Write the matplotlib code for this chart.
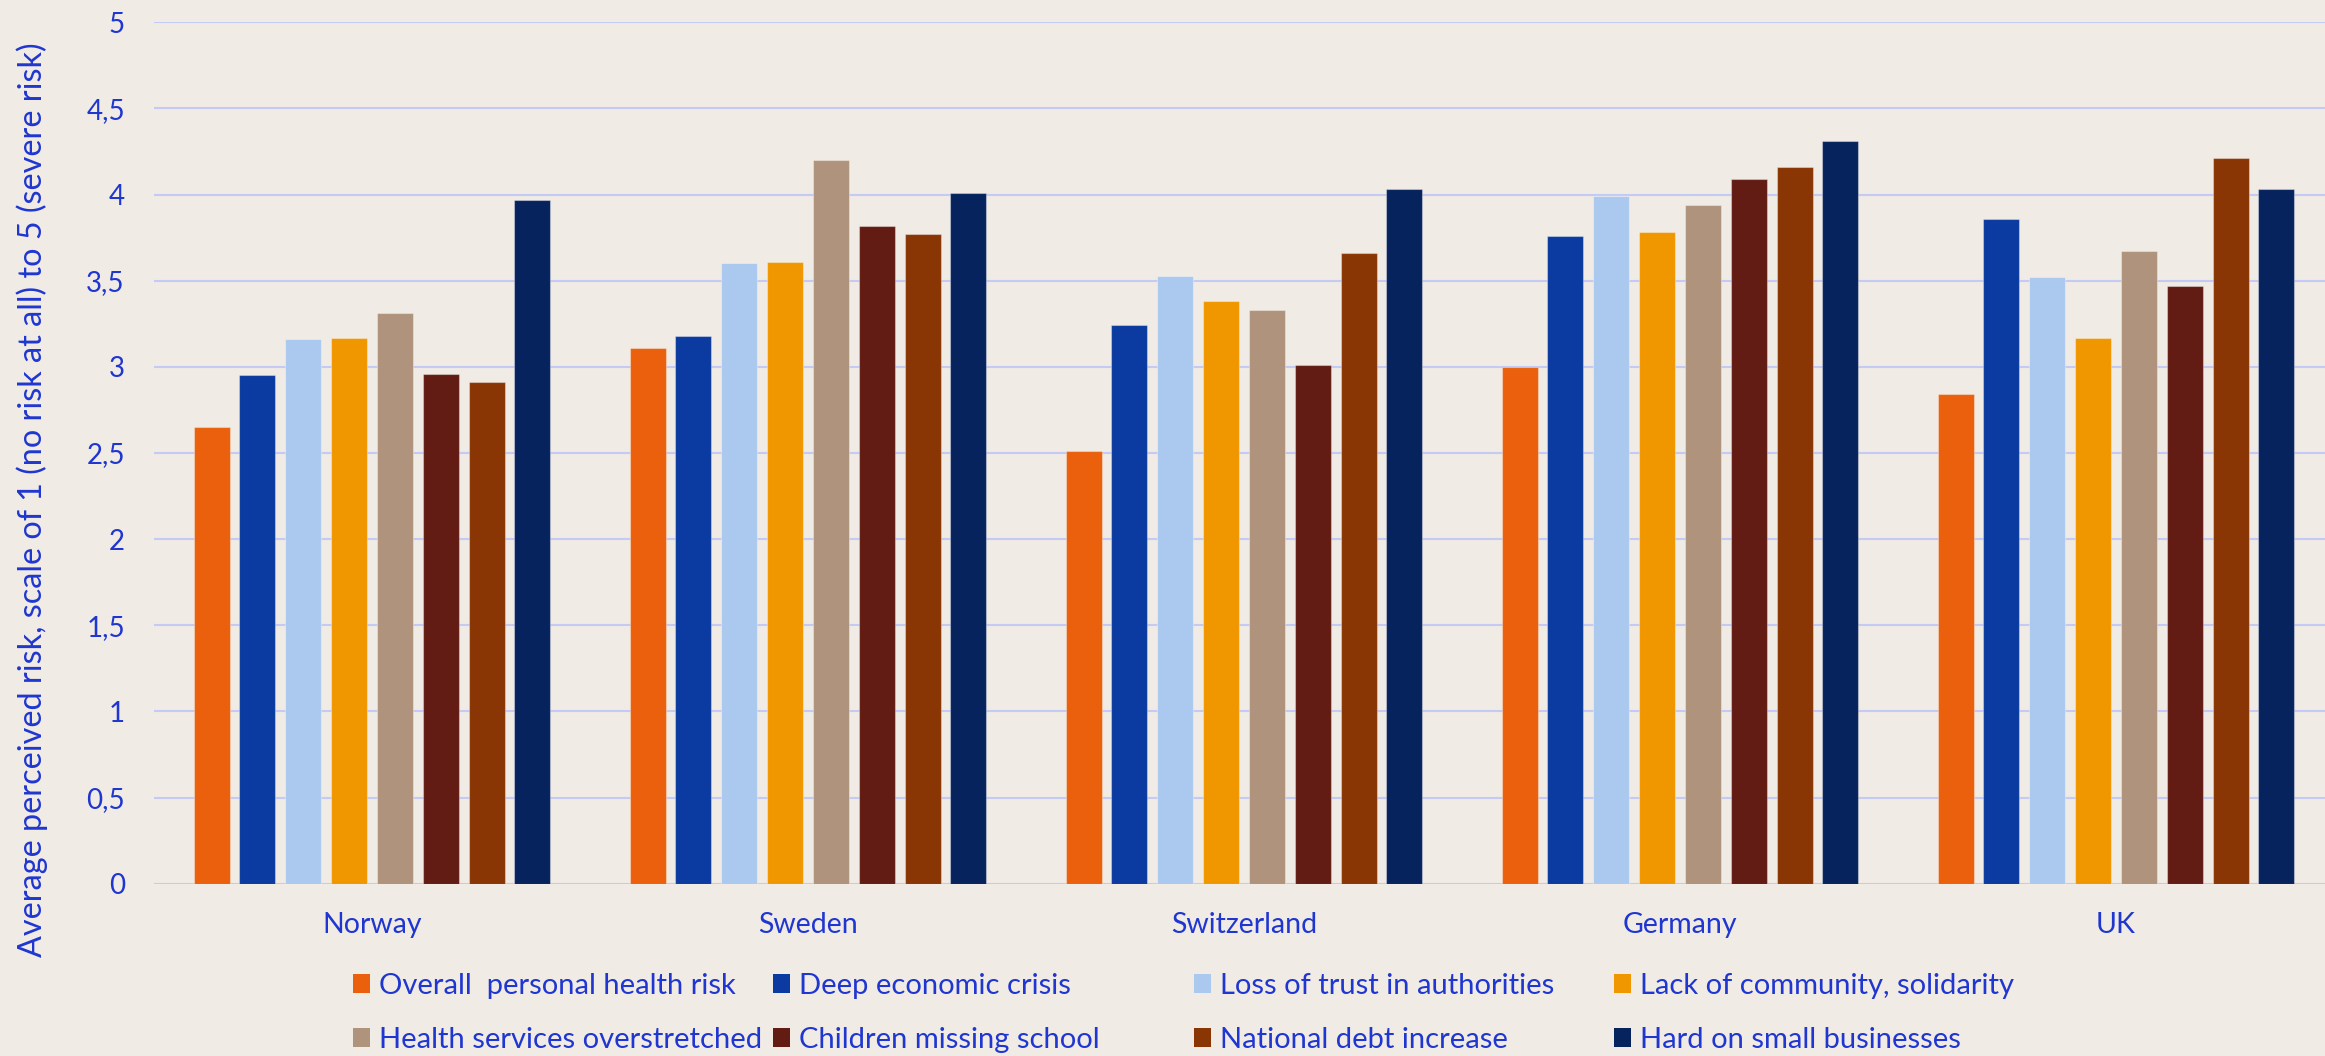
import matplotlib
matplotlib.use("Agg")
import matplotlib.pyplot as plt
from matplotlib.patches import Patch
from matplotlib.ticker import FuncFormatter
import numpy as np

countries = ["Norway", "Sweden", "Switzerland", "Germany", "UK"]
series_names = [
    "Overall  personal health risk",
    "Deep economic crisis",
    "Loss of trust in authorities",
    "Lack of community, solidarity",
    "Health services overstretched",
    "Children missing school",
    "National debt increase",
    "Hard on small businesses",
]
overall_health = [2.65, 3.11, 2.51, 3.00, 2.84]
economic_crisis = [2.95, 3.18, 3.24, 3.76, 3.86]
loss_of_trust = [3.16, 3.60, 3.53, 3.99, 3.52]
lack_community = [3.17, 3.61, 3.38, 3.78, 3.17]
health_services = [3.31, 4.20, 3.33, 3.94, 3.67]
children_school = [2.96, 3.82, 3.01, 4.09, 3.47]
national_debt = [2.91, 3.77, 3.66, 4.16, 4.21]
small_business = [3.97, 4.01, 4.03, 4.31, 4.03]
yticks = [0, 0.5, 1, 1.5, 2, 2.5, 3, 3.5, 4, 4.5, 5]

values = [overall_health, economic_crisis, loss_of_trust, lack_community,
          health_services, children_school, national_debt, small_business]
colors = ["#EA600C", "#0B3BA0", "#ABC8EF", "#F09700",
          "#AF937C", "#621C14", "#8A3604", "#06235E"]

bg = "#F0EBE4"
txt = "#1F36D0"
grid_c = "#C3CBF4"
FONT = ["Lato", "DejaVu Sans"]
FS_TICK = 20
FS_X = 20.5
FS_LEG = 21
FS_YLAB = 23.3

plt.rcParams["font.family"] = FONT

W, H = 2325, 1056
fig = plt.figure(figsize=(W / 100, H / 100), dpi=100, facecolor=bg)
left_px, top_px, bottom_px = 154, 22.2, 883.8
ax = fig.add_axes([left_px / W, (H - bottom_px) / H, (W - left_px) / W, (bottom_px - top_px) / H])
ax.set_facecolor(bg)

cat_px = 436.0
x = np.arange(len(countries))
step = 0.1051
width = 0.0827
handles = []
for j, (vals, col, name) in enumerate(zip(values, colors, series_names)):
    ax.bar(x + (j - 3.5) * step, vals, width=width, color=col,
           edgecolor=(1, 1, 1, 0.35), linewidth=0.8, zorder=3)
    handles.append(Patch(facecolor=col, edgecolor="none", label=name))

ax.set_xlim(-0.5, -0.5 + (W - left_px) / cat_px)
ax.set_ylim(0, 5)
ax.set_yticks(yticks)
ax.yaxis.set_major_formatter(FuncFormatter(lambda v, p: (f"{v:g}").replace(".", ",")))
ax.set_xticks(x)
ax.set_xticklabels(countries)
ax.tick_params(axis="y", length=0, pad=21, labelsize=FS_TICK, labelcolor=txt)
ax.tick_params(axis="x", length=0, pad=20, labelsize=FS_X, labelcolor=txt)
ax.grid(axis="y", color=grid_c, linewidth=1.5, zorder=0)
for s in ax.spines.values():
    s.set_visible(False)

fig.text(32 / W, 1 - 500 / H,
         "Average perceived risk, scale of 1 (no risk at all) to 5 (severe risk)",
         rotation=90, ha="center", va="center", fontsize=FS_YLAB, color=txt)

col_x = [353, 773, 1194, 1614]
for c in range(4):
    leg = fig.legend(handles=[handles[c], handles[c + 4]], loc="center left",
                     bbox_to_anchor=(col_x[c] / W, 1 - 1013 / H),
                     frameon=False, fontsize=FS_LEG, borderpad=0, borderaxespad=0,
                     handlelength=0.58, handleheight=0.62, handletextpad=0.31,
                     labelspacing=0.95)
    for t in leg.get_texts():
        t.set_color(txt)

fig.savefig("out.png", dpi=100, facecolor=bg)
